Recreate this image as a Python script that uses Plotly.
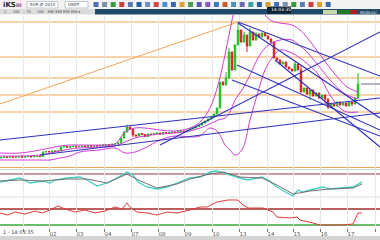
import plotly.graph_objects as go
from plotly.subplots import make_subplots

# ---------------- data ----------------
close = [12.5, 13.0, 12.8, 13.2, 12.6, 13.0, 13.4, 12.9, 13.3, 13.6, 13.1, 13.5, 13.8, 13.4,
         18.0, 18.5, 18.2, 19.0, 18.6, 19.2,
         23.0, 23.5, 22.8, 23.4, 23.9, 23.2, 23.6, 24.0, 23.5, 24.2, 23.8, 24.4, 24.0, 24.6,
         25.0, 25.4, 24.9, 25.8, 26.2, 27.0,
         32.0, 38.0, 43.0, 41.0,
         35.0, 34.0, 36.5, 35.5, 33.5, 36.0,
         35.5, 36.5, 37.0, 36.0, 37.5, 36.8, 37.2, 38.0, 37.5,
         38.5, 39.0, 38.2, 40.0, 41.0,
         42.0, 43.5, 45.0, 47.0, 49.0, 51.0, 53.0, 56.0,
         62.0, 88.0, 85.0, 92.0, 118.0,
         100.0, 125.0, 140.0, 128.0,
         135.0, 124.0, 138.0, 130.0, 136.0, 133.0, 137.0,
         134.0, 131.0, 128.0, 112.0,
         110.0, 106.0, 108.0, 103.0, 101.0, 99.0, 106.0, 100.0,
         78.0, 82.0, 76.0, 80.0, 74.0, 77.0, 72.0, 75.0, 71.0,
         63.0,
         66.0, 64.0, 68.0, 65.0, 67.0, 64.0, 68.0, 66.0,
         72.0, 86.0]
first_open = 12.2
t = [1 + 3 * i for i in range(len(close))]
wick_hi = {14: 0.5, 42: 2.5, 60: 1.0, 75: 6.0, 76: 4.0, 79: 7.0, 81: 3.0, 83: 4.0,
           85: 2.0, 98: 3.0, 100: 4.0, 119: 11.0}
wick_lo = {44: 2.0, 82: 6.0, 90: 2.0, 103: 6.0, 108: 4.0, 109: 2.0, 117: 2.0}

bb_x = [0, 20, 40, 50, 60, 70, 80, 100, 115, 125, 135, 145, 160, 175, 190, 200, 210, 218,
        225, 230, 235, 242, 250, 258, 265, 272, 280, 292, 300, 305, 318, 330, 340, 347, 358]
bb_up = [17, 17, 20, 22, 24, 25, 25, 25, 26, 38, 42, 42, 40, 39, 42, 48, 62, 85,
         115, 140, 162, 180, 190, 170, 155, 149, 147, 145, 140, 135, 118, 102, 90, 83, 78]
bb_mid = [14, 14, 15, 17, 19, 21, 22, 23, 24, 28, 32, 34, 36, 37, 39, 42, 46, 50,
          52, 58, 70, 80, 95, 112, 122, 127, 130, 130, 124, 120, 105, 90, 80, 75, 71]
bb_lo = [10, 10, 10, 10, 12, 14, 18, 20, 22, 17, 18, 22, 30, 34, 33, 34, 42, 38,
         25, 20, 15, 20, 50, 78, 100, 112, 120, 117, 112, 108, 96, 75, 62, 58, 58]

# trendlines: (x0, y0, x1, y1)
blue_lines = [(0, 30, 380, 72), (40, 15, 380, 57), (160, 25, 380, 138),
              (238, 148, 380, 94), (238, 147, 380, 52), (237, 105, 380, 40),
              (232, 90, 380, 34), (275, 110, 380, 23)]
orange_diag = (0, 66, 238, 148)
orange_levels = [148, 113, 92, 75, 58, 2.5]

osc_x = [0, 10, 20, 30, 43, 50, 55, 67, 80, 87, 97, 107, 117, 127, 133, 138, 147, 157, 167,
         177, 185, 190, 200, 210, 217, 223, 240, 248, 262, 268, 277, 287, 293, 298, 303,
         310, 323, 330, 340, 353, 362]
osc_v = [23, 25, 27, 22, 24, 22, 25, 27, 28, 25, 19, 22, 27, 33, 30, 23, 18, 16, 18,
         22, 25, 27, 28, 33, 34, 32, 27, 25, 28, 25, 18, 12, 9, 15, 13,
         15, 18, 16, 17, 18, 23]
sig_x = [0, 20, 43, 67, 87, 107, 127, 138, 157, 177, 190, 210, 223, 240, 262, 277, 293,
         310, 330, 353, 362]
sig_v = [24, 25, 24, 26, 26, 22, 31, 25, 17, 21, 26, 31, 33, 28, 27, 20, 11, 14, 16, 17, 21]
osc_level = 31
osc_grid = 8

red_x = [0, 8, 15, 25, 35, 42, 50, 58, 65, 75, 85, 95, 105, 115, 122, 127, 131, 137, 147,
         157, 167, 177, 190, 200, 207, 217, 228, 238, 243, 248, 263, 273, 277, 290, 297,
         300, 313, 320, 333, 343, 353, 358, 362]
red_w = [15, 13, 16, 14, 17, 15, 18, 22, 19, 16, 18, 15, 17, 21, 19, 25, 20, 16, 15,
         13, 16, 15, 18, 21, 21, 26, 28, 28, 23, 20, 20, 16, 11, 10, 11,
         8, 5, 3, 3, 3, 4, 15, 15]
red_level = 19
green_level = 3

grid_x = [23, 49, 76, 104, 131, 158, 184, 212, 239, 267, 293, 320, 347, 375]
grid_lbl = ["", "02", "03", "04", "07", "08", "09", "10", "13", "14", "15", "16", "17", ""]

# ---------------- build ----------------
opens = [first_open] + close[:-1]
highs = [max(o, c) + wick_hi.get(i, 0.3) for i, (o, c) in enumerate(zip(opens, close))]
lows = [min(o, c) - wick_lo.get(i, 0.3) for i, (o, c) in enumerate(zip(opens, close))]

fig = make_subplots(rows=3, cols=1, shared_xaxes=True, vertical_spacing=0)

MAG = "#d23cd2"
BLUE = "#2f2fbf"
ORANGE = "#f2a552"

fig.add_trace(go.Scatter(x=[orange_diag[0], orange_diag[2]], y=[orange_diag[1], orange_diag[3]],
                         mode="lines", line=dict(color=ORANGE, width=1)), row=1, col=1)

for arr in (bb_up, bb_mid, bb_lo):
    fig.add_trace(go.Scatter(x=bb_x, y=arr, mode="lines", line=dict(color=MAG, width=1, shape="spline")),
                  row=1, col=1)

for (x0, y0, x1, y1) in blue_lines:
    fig.add_trace(go.Scatter(x=[x0, x1], y=[y0, y1], mode="lines", line=dict(color=BLUE, width=1.1)),
                  row=1, col=1)

fig.add_trace(go.Candlestick(x=t, open=opens, high=highs, low=lows, close=close,
                             increasing=dict(line=dict(color="#1fbf1f", width=1), fillcolor="#1fbf1f"),
                             decreasing=dict(line=dict(color="#d42020", width=1), fillcolor="#d42020"),
                             whiskerwidth=0),
              row=1, col=1)

# oscillator panel
fig.add_trace(go.Scatter(x=osc_x, y=osc_v, mode="lines", line=dict(color="#3fcfc4", width=1.3)), row=2, col=1)
fig.add_trace(go.Scatter(x=sig_x, y=sig_v, mode="lines", line=dict(color="#6a6060", width=0.9)), row=2, col=1)

# lower panel
fig.add_trace(go.Scatter(x=red_x, y=red_w, mode="lines", line=dict(color="#e03a3a", width=1)), row=3, col=1)

# horizontal levels (as shapes spanning the panel width)
for lv in orange_levels:
    fig.add_shape(type="line", xref="x domain", yref="y", x0=0, x1=1, y0=lv, y1=lv,
                  line=dict(color=ORANGE, width=1), layer="below")
fig.add_shape(type="line", xref="x2 domain", yref="y2", x0=0, x1=1, y0=osc_level, y1=osc_level,
              line=dict(color="#c99a9a", width=2), layer="below")
fig.add_shape(type="line", xref="x2 domain", yref="y2", x0=0, x1=1, y0=osc_grid, y1=osc_grid,
              line=dict(color="#dddddd", width=1), layer="below")
fig.add_shape(type="line", xref="x3 domain", yref="y3", x0=0, x1=1, y0=red_level, y1=red_level,
              line=dict(color="#a52a2a", width=1.5), layer="below")
fig.add_shape(type="line", xref="x3 domain", yref="y3", x0=0, x1=1, y0=green_level, y1=green_level,
              line=dict(color="#3aa63a", width=1.5), layer="below")
# current price line
fig.add_shape(type="line", xref="x", yref="y", x0=t[-1] + 3, x1=380, y0=close[-1], y1=close[-1],
              line=dict(color="#9a9ab8", width=1.5))


def py(ypx):
    return 1 - ypx / 240.0


fig.update_layout(
    width=380, height=240, margin=dict(l=0, r=0, t=0, b=0),
    paper_bgcolor="white", plot_bgcolor="white", showlegend=False,
    font=dict(family="DejaVu Sans", size=6, color="#444"),
    yaxis=dict(domain=[py(170), py(15)], range=[0, 155]),
    yaxis2=dict(domain=[py(199), py(170)], range=[6, 35]),
    yaxis3=dict(domain=[py(228), py(199)], range=[0, 29]),
)
fig.update_yaxes(showticklabels=False, showgrid=False, zeroline=False, fixedrange=True)
fig.update_xaxes(range=[0, 380], showgrid=True, gridcolor="#e9e9e9", gridwidth=1,
                 tickvals=grid_x, ticktext=grid_lbl, zeroline=False, rangeslider_visible=False)
fig.update_xaxes(showticklabels=False, row=1, col=1)
fig.update_xaxes(showticklabels=False, row=2, col=1)
fig.update_xaxes(showticklabels=True, ticks="outside", ticklen=3, tickcolor="#777",
                 ticklabelposition="outside right", tickfont=dict(size=5.5, color="#555"),
                 row=3, col=1)

shapes = []
# header
shapes.append(dict(type="rect", xref="paper", yref="paper", x0=0, x1=1, y0=py(9), y1=1,
                   fillcolor="#f3f3f3", line_width=0, layer="above"))
shapes.append(dict(type="rect", xref="paper", yref="paper", x0=0, x1=95 / 380, y0=py(14.5), y1=py(9),
                   fillcolor="#dcdcdc", line_width=0, layer="above"))
shapes.append(dict(type="rect", xref="paper", yref="paper", x0=95 / 380, x1=1, y0=py(14.5), y1=py(9),
                   fillcolor="#1f4a69", line_width=0, layer="above"))
shapes.append(dict(type="rect", xref="paper", yref="paper", x0=267 / 380, x1=291 / 380, y0=py(13.5), y1=py(6.5),
                   fillcolor="#0d2233", line_width=0, layer="above"))
for (xa, xb, col) in [(323, 337, "#c9d6a8"), (338, 350, "#1f7a2a"), (350, 357, "#b02020")]:
    shapes.append(dict(type="rect", xref="paper", yref="paper", x0=xa / 380, x1=xb / 380,
                       y0=py(14), y1=py(10), fillcolor=col, line_width=0, layer="above"))
for (xa, xb) in [(27, 58), (65, 88)]:
    shapes.append(dict(type="rect", xref="paper", yref="paper", x0=xa / 380, x1=xb / 380,
                       y0=py(8), y1=py(1.5), fillcolor="white", line=dict(color="#9ab", width=0.6),
                       layer="above"))
icon_cols = ["#4a6fb5", "#7a8fa8", "#3a9a3a", "#c84040", "#5a7ab0", "#2a5fa0", "#7090c0",
             "#d04a4a", "#4a8fd0", "#3a6aa8", "#e0a030", "#4aa04a", "#5a5aa8", "#8a5ab0",
             "#3a7ac0", "#c06030", "#4a90c0", "#6a6ab0", "#3aa0a0", "#2a5fa0", "#d0a030",
             "#4a6fb5", "#7a8fa8", "#3a9a3a", "#5a7ab0", "#c84040", "#e0a030", "#3a6aa8"]
for k, col in enumerate(icon_cols):
    xc = 96 + k * 8.6
    shapes.append(dict(type="rect", xref="paper", yref="paper", x0=(xc - 2.5) / 380, x1=(xc + 2.5) / 380,
                       y0=py(7), y1=py(2), fillcolor=col, line_width=0, layer="above"))
shapes.append(dict(type="line", xref="paper", yref="paper", x0=0, x1=1, y0=py(169.5), y1=py(169.5),
                   line=dict(color="#c9d9c6", width=1), layer="above"))
shapes.append(dict(type="rect", xref="paper", yref="paper", x0=0, x1=1, y0=0, y1=py(236),
                   fillcolor="#d4d4d4", line_width=0, layer="above"))
for s in shapes:
    fig.add_shape(**s)

ann = [
    dict(x=1 / 380, y=py(4.5), text="<b>iKS</b>", font=dict(size=7, color="#222")),
    dict(x=14 / 380, y=py(4.5), text="<b>III</b>", font=dict(size=5, color="#557")),
    dict(x=28 / 380, y=py(4.8), text="EUR-JE-2014", font=dict(size=4, color="#333")),
    dict(x=66 / 380, y=py(4.8), text="USDT", font=dict(size=4, color="#333")),
    dict(x=2 / 380, y=py(11.8), text="1      100      70      100   888 888 888 888 ▾",
         font=dict(size=3.5, color="#444")),
    dict(x=269 / 380, y=py(10), text="14:03:35", font=dict(size=4.5, color="white")),
    dict(x=358 / 380, y=py(12), text="MAIN:AU", font=dict(size=3.8, color="#e8e8e8")),
    dict(x=0.5 / 380, y=py(232), text="1 - 14:03:35", font=dict(size=5, color="#444")),
]
for a in ann:
    fig.add_annotation(xref="paper", yref="paper", xanchor="left", yanchor="middle",
                       showarrow=False, **a)

fig.write_html("out.html")
